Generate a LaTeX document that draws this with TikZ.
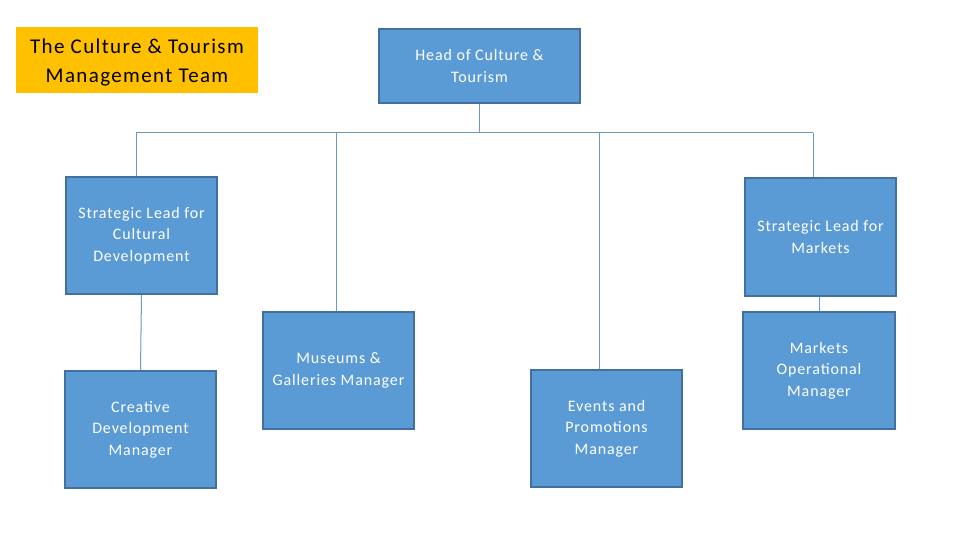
\documentclass[tikz,border=0pt]{standalone}
\usepackage{fontspec}
\setmainfont{Carlito}
\newfontfamily\boxfont[LetterSpace=5.5]{Carlito}
\newfontfamily\titlefont[LetterSpace=6.5]{Carlito}
\definecolor{boxfill}{HTML}{5B9BD5}
\definecolor{boxline}{HTML}{41719C}
\definecolor{conn}{HTML}{6A9AC4}
\definecolor{gold}{HTML}{FFC000}
\begin{document}
\begin{tikzpicture}[x=1pt,y=-1pt,
  box/.style={draw=boxline,fill=boxfill,line width=1.6pt,text=white,align=center,
    minimum width=151pt,minimum height=117pt,inner sep=0pt,
    font=\boxfont\fontsize{16}{21.5}\selectfont},
  titlebox/.style={fill=gold,minimum width=242pt,minimum height=66pt,inner sep=0pt},
  titletext/.style={align=center,inner sep=0pt,font=\titlefont\fontsize{21}{29}\selectfont},
  conline/.style={draw=conn,line width=1pt}]
\fill[white] (0,0) rectangle (960,540);
\useasboundingbox (0,0) rectangle (960,540);
\node[titlebox] (title) at (137,60) {};
\node[titletext] (titlet) at ([yshift=-2.5pt]title.center) {The Culture \& Tourism\\Management Team};
\node[box,minimum width=201pt,minimum height=74pt] (head) at (479.5,66) {Head of Culture \&\\Tourism};
\node[box] (cul) at (141.5,235.5) {Strategic Lead for\\Cultural\\Development};
\node[box] (mus) at (338.5,370.5) {Museums \&\\Galleries Manager};
\node[box] (evt) at (606.5,428.5) {Events and\\Promotions\\Manager};
\node[box,minimum height=118pt] (mkt) at (820.5,237) {Strategic Lead for\\Markets};
\node[box,minimum width=152pt] (mop) at (819,370.5) {Markets\\Operational\\Manager};
\node[box] (cre) at (140.5,429.5) {Creative\\Development\\Manager};
\coordinate (bA) at (136,133);
\coordinate (bB) at (336,133);
\coordinate (bC) at (599,133);
\coordinate (bD) at (813,133);
\draw[conline] (bA) -- (bD);
\draw[conline] (head.south) -- (head.south |- bA);
\draw[conline] (bA) -- (bA |- cul.north);
\draw[conline] (bB) -- (bB |- mus.north);
\draw[conline] (bC) -- (bC |- evt.north);
\draw[conline] (bD) -- (bD |- mkt.north);
\draw[conline] (cul.south) -- (cre.north);
\draw[conline] (mkt.south -| mop.north) -- (mop.north);
\end{tikzpicture}
\end{document}
